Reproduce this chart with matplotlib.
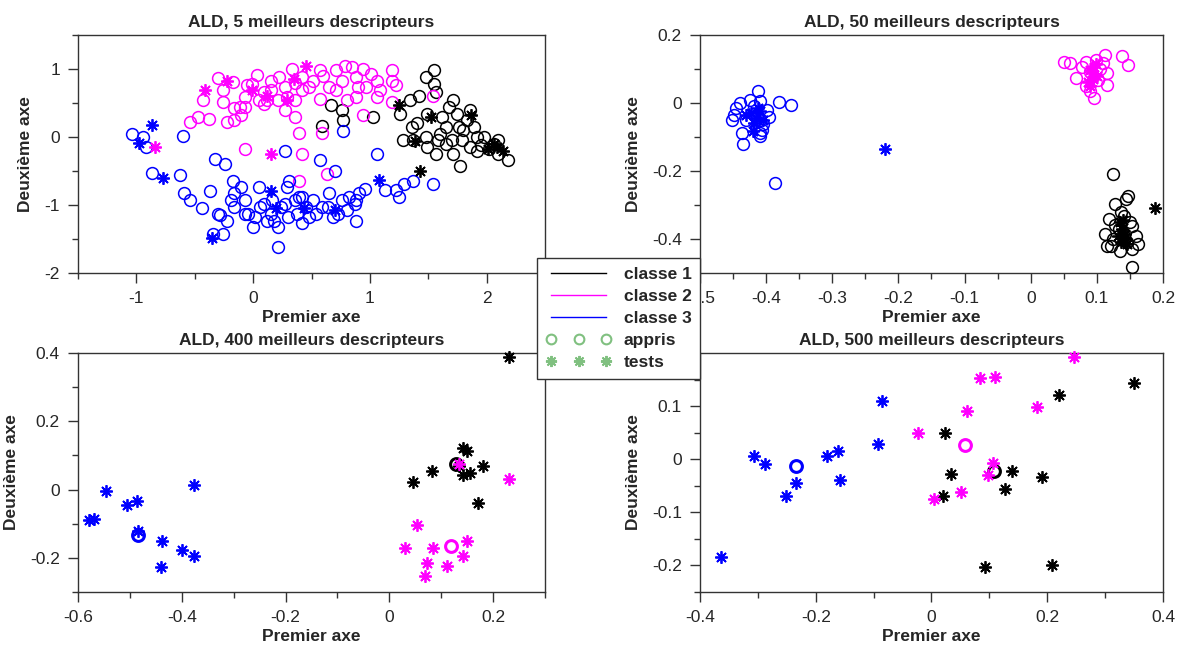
import numpy as np
import matplotlib
matplotlib.use('Agg')
import matplotlib.pyplot as plt
from matplotlib.lines import Line2D
from matplotlib.ticker import MultipleLocator

# ---- data : (premier axe, deuxieme axe) ----

# ALD, 5 meilleurs descripteurs
tl_c1_appris = [(0.67, 0.47), (0.76, 0.39), (0.77, 0.25), (0.59, 0.16), (1.03, 0.29),
	(1.26, 0.34), (1.34, 0.54), (1.42, 0.61), (1.48, 0.88), (1.55, 0.98), (1.55, 0.78),
	(1.57, 0.66), (1.49, 0.34), (1.36, 0.15), (1.28, -0.05), (1.37, -0.05), (1.48, 0.0),
	(1.49, -0.15), (1.57, -0.25), (1.65, 0.15), (1.68, 0.44), (1.71, 0.54), (1.75, 0.34),
	(1.76, 0.15), (1.79, -0.05), (1.77, -0.42), (1.71, -0.25), (1.65, -0.10), (1.86, 0.39),
	(1.89, 0.15), (1.92, 0.0), (1.92, -0.20), (1.98, 0.0), (2.06, -0.10), (2.10, -0.25),
	(2.18, -0.34), (2.10, -0.05), (1.58, -0.05), (1.86, -0.15), (1.60, 0.05), (1.83, 0.25),
	(1.70, -0.05), (1.95, -0.12), (2.02, -0.18), (1.80, 0.10), (1.62, 0.30), (1.40, 0.20)]
tl_c1_tests = [(1.25, 0.47), (1.52, 0.29), (1.87, 0.32), (1.39, -0.06), (1.43, -0.50),
	(2.06, -0.10), (2.09, -0.15), (2.01, -0.17), (2.14, -0.20)]
tl_c2_appris = [(-0.54, 0.22), (-0.47, 0.29), (-0.38, 0.27), (-0.43, 0.54), (-0.26, 0.51),
	(-0.26, 0.69), (-0.22, 0.22), (-0.16, 0.25), (-0.10, 0.32), (-0.16, 0.42), (-0.11, 0.44),
	(-0.07, 0.59), (-0.01, 0.78), (0.03, 0.91), (0.05, 0.54), (0.09, 0.49), (0.15, 0.69),
	(0.22, 0.88), (0.27, 0.74), (0.29, 0.59), (0.36, 0.54), (0.27, 0.39), (0.36, 0.29),
	(0.33, 1.0), (0.42, 0.88), (0.48, 0.74), (0.51, 0.83), (0.57, 0.99), (0.57, 0.56),
	(0.65, 0.74), (0.71, 0.98), (0.76, 0.83), (0.79, 1.05), (0.85, 1.03), (0.80, 0.54),
	(0.88, 0.59), (0.94, 1.0), (0.90, 0.74), (0.97, 0.74), (1.01, 0.93), (1.06, 0.83),
	(1.09, 0.69), (1.06, 0.59), (1.19, 0.98), (1.19, 0.83), (1.22, 0.76), (1.19, 0.51),
	(0.94, 0.32), (1.54, 0.61), (0.39, 0.06), (0.59, 0.06), (-0.07, -0.17), (0.42, -0.25),
	(0.39, -0.64), (0.63, -0.55), (-0.30, 0.87), (-0.17, 0.81), (-0.05, 0.76), (0.15, 0.83),
	(0.21, 0.54), (0.42, 0.69), (0.71, 0.69), (0.88, 0.88), (-0.07, 0.44), (0.09, 0.66),
	(0.60, 0.90), (0.36, 0.80), (0.12, 0.55)]
tl_c2_tests = [(-0.41, 0.69), (-0.22, 0.82), (-0.01, 0.69), (0.12, 0.61), (0.29, 0.54),
	(0.35, 0.86), (0.45, 1.05), (-0.84, -0.15), (0.15, -0.25)]
tl_c3_appris = [(-1.04, 0.05), (-0.94, 0.0), (-0.92, -0.15), (-0.87, -0.53), (-0.60, 0.02),
	(-0.63, -0.56), (-0.59, -0.83), (-0.54, -0.93), (-0.44, -1.04), (-0.37, -0.79),
	(-0.33, -0.33), (-0.24, -0.39), (-0.28, -1.15), (-0.26, -1.42), (-0.34, -1.42),
	(-0.17, -0.64), (-0.10, -0.74), (-0.16, -0.83), (-0.07, -0.93), (-0.04, -1.13),
	(0.0, -1.32), (0.05, -0.74), (0.09, -0.98), (0.15, -1.13), (0.16, -0.93), (0.21, -1.32),
	(0.21, -1.62), (0.27, -0.20), (0.31, -0.64), (0.29, -0.74), (0.24, -1.03), (0.30, -1.18),
	(0.36, -0.93), (0.38, -1.13), (0.42, -1.27), (0.39, -0.88), (0.45, -1.03), (0.51, -0.93),
	(0.54, -1.13), (0.57, -0.34), (0.59, -1.03), (0.65, -0.83), (0.68, -1.18), (0.70, -0.50),
	(0.76, -0.93), (0.77, 0.09), (0.80, -1.08), (0.87, -0.98), (0.88, -1.23), (0.91, -0.83),
	(0.96, -0.76), (1.06, -0.25), (1.13, -0.78), (1.22, -0.78), (1.25, -0.88), (1.29, -0.69),
	(1.37, -0.64), (1.54, -0.69), (-0.30, -1.13), (-0.22, -1.23), (-0.16, -1.03),
	(0.06, -1.03), (0.12, -1.23), (0.27, -0.98), (0.48, -1.18), (0.64, -1.03), (0.82, -0.88),
	(-0.07, -1.13), (0.02, -1.18), (-0.19, -0.93), (0.42, -0.88), (0.18, -1.23), (0.73, -1.13),
	(0.88, -0.93)]
tl_c3_tests = [(-0.87, 0.17), (-0.98, -0.09), (-0.77, -0.60), (-0.35, -1.49), (0.15, -0.80),
	(0.20, -1.04), (0.44, -1.04), (0.70, -1.08), (1.08, -0.63)]

# ALD, 50 meilleurs descripteurs
tr_c1_appris = [(0.124, -0.21), (0.147, -0.273), (0.127, -0.298), (0.112, -0.385),
	(0.115, -0.42), (0.124, -0.40), (0.141, -0.332), (0.153, -0.361), (0.159, -0.39),
	(0.162, -0.415), (0.135, -0.434), (0.153, -0.429), (0.153, -0.483), (0.118, -0.34),
	(0.141, -0.39), (0.133, -0.37), (0.144, -0.283), (0.128, -0.36), (0.146, -0.41),
	(0.137, -0.32), (0.121, -0.42), (0.150, -0.35)]
tr_c1_tests = [(0.138, -0.371), (0.141, -0.40), (0.135, -0.351), (0.143, -0.385),
	(0.132, -0.39), (0.146, -0.415), (0.139, -0.345), (0.136, -0.41), (0.188, -0.31)]
tr_c2_appris = [(0.051, 0.122), (0.069, 0.073), (0.077, 0.107), (0.083, 0.049),
	(0.095, 0.015), (0.101, 0.068), (0.112, 0.141), (0.115, 0.088), (0.115, 0.054),
	(0.138, 0.137), (0.147, 0.112), (0.083, 0.122), (0.060, 0.117), (0.098, 0.127),
	(0.110, 0.117), (0.089, 0.034), (0.105, 0.100), (0.090, 0.090)]
tr_c2_tests = [(0.092, 0.088), (0.086, 0.063), (0.095, 0.107), (0.089, 0.098),
	(0.100, 0.080), (0.094, 0.072), (0.098, 0.115), (0.090, 0.050)]
tr_c3_appris = [(-0.449, -0.034), (-0.44, 0.0), (-0.412, 0.034), (-0.41, 0.005),
	(-0.380, 0.002), (-0.362, -0.005), (-0.437, -0.088), (-0.435, -0.122), (-0.410, -0.088),
	(-0.404, -0.063), (-0.398, -0.02), (-0.419, -0.01), (-0.431, -0.049), (-0.41, -0.049),
	(-0.387, -0.234), (-0.425, 0.01), (-0.445, -0.015), (-0.407, -0.078), (-0.41, -0.098),
	(-0.452, -0.05), (-0.395, -0.04)]
tr_c3_tests = [(-0.423, -0.03), (-0.415, -0.044), (-0.410, -0.024), (-0.419, -0.06),
	(-0.42, -0.083), (-0.43, -0.034), (-0.412, -0.015), (-0.405, -0.05), (-0.220, -0.134)]

# ALD, 400 meilleurs descripteurs
bl_c1_appris = [(0.128, 0.076)]
bl_c1_tests = [(0.231, 0.389), (0.142, 0.123), (0.149, 0.113), (0.082, 0.054), (0.046, 0.023),
	(0.135, 0.069), (0.142, 0.044), (0.156, 0.049), (0.180, 0.069), (0.170, -0.039)]
bl_c2_appris = [(0.118, -0.165)]
bl_c2_tests = [(0.231, 0.031), (0.135, 0.076), (0.054, -0.105), (0.031, -0.172), (0.084, -0.172),
	(0.072, -0.216), (0.069, -0.253), (0.111, -0.224), (0.149, -0.152), (0.142, -0.194)]
bl_c3_appris = [(-0.485, -0.132)]
bl_c3_tests = [(-0.546, -0.005), (-0.579, -0.088), (-0.570, -0.085), (-0.505, -0.044),
	(-0.487, -0.034), (-0.377, 0.013), (-0.438, -0.152), (-0.400, -0.178), (-0.376, -0.194),
	(-0.441, -0.227), (-0.484, -0.12)]

# ALD, 500 meilleurs descripteurs
br_c1_appris = [(0.108, -0.023)]
br_c1_tests = [(0.350, 0.143), (0.220, 0.121), (0.023, 0.049), (0.034, -0.027), (0.020, -0.069),
	(0.139, -0.023), (0.127, -0.057), (0.191, -0.034), (0.092, -0.203), (0.209, -0.199)]
br_c2_appris = [(0.058, 0.026)]
br_c2_tests = [(0.246, 0.193), (0.084, 0.152), (0.110, 0.155), (0.061, 0.091), (0.182, 0.098),
	(-0.024, 0.049), (0.051, -0.061), (0.005, -0.074), (0.106, -0.008), (0.098, -0.030)]
br_c3_appris = [(-0.234, -0.012)]
br_c3_tests = [(-0.364, -0.184), (-0.307, 0.007), (-0.288, -0.009), (-0.251, -0.069),
	(-0.234, -0.044), (-0.180, 0.007), (-0.161, 0.015), (-0.158, -0.039), (-0.092, 0.029),
	(-0.086, 0.109)]

titles = ["ALD, 5 meilleurs descripteurs", "ALD, 50 meilleurs descripteurs",
	"ALD, 400 meilleurs descripteurs", "ALD, 500 meilleurs descripteurs"]
class_names = ["classe 1", "classe 2", "classe 3"]
class_colors = ["#000000", "#ff00ff", "#0000ff"]

W, H = 1194, 645
STAR = (8, 2, 0)
TXT = "#262626"
FS = 12.5

plt.rcParams['font.family'] = ['Liberation Sans', 'DejaVu Sans']

fig = plt.figure(figsize=(W / 100, H / 100), dpi=100)

# axes boxes in pixels : left, top, right, bottom
boxes = [(78, 35, 545, 273), (700, 35, 1163, 273),
	(78, 353, 545, 592), (700, 353, 1163, 592)]

# limits, major and minor steps
lims = [((-1.5, 2.5), (-2, 1.5), 1, 0.5, 1, 0.5),
	((-0.5, 0.2), (-0.5, 0.2), 0.1, 0.05, 0.2, 0.1),
	((-0.6, 0.3), (-0.3, 0.4), 0.2, 0.1, 0.2, 0.1),
	((-0.4, 0.4), (-0.25, 0.2), 0.2, 0.1, 0.1, 0.05)]

data = [
	[(tl_c1_appris, tl_c1_tests), (tl_c2_appris, tl_c2_tests), (tl_c3_appris, tl_c3_tests)],
	[(tr_c1_appris, tr_c1_tests), (tr_c2_appris, tr_c2_tests), (tr_c3_appris, tr_c3_tests)],
	[(bl_c1_appris, bl_c1_tests), (bl_c2_appris, bl_c2_tests), (bl_c3_appris, bl_c3_tests)],
	[(br_c1_appris, br_c1_tests), (br_c2_appris, br_c2_tests), (br_c3_appris, br_c3_tests)],
]

def fmt_tick(v, pos):
	s = ("%.2f" % v).rstrip('0').rstrip('.')
	if s == "-0":
		s = "0"
	return s

for k in range(4):
	l, t, r, b = boxes[k]
	ax = fig.add_axes([l / W, 1 - b / H, (r - l) / W, (b - t) / H])
	xl, yl, xmaj, xmin, ymaj, ymin = lims[k]

	# the single circles of the last two panels look thicker (overlapping marks)
	thick = k >= 2
	for ci in range(3):
		appris, tests = data[k][ci]
		a = np.array(appris)
		ax.plot(a[:, 0], a[:, 1], 'o', ms=8.5, mfc='none', mec=class_colors[ci],
				mew=2.2 if thick else 1.1, clip_on=False, zorder=3)
	for ci in range(3):
		appris, tests = data[k][ci]
		s = np.array(tests)
		ax.plot(s[:, 0], s[:, 1], ls='none', marker=STAR, ms=9, mec=class_colors[ci],
				mew=1.3, clip_on=False, zorder=4)

	ax.set_xlim(xl)
	ax.set_ylim(yl)
	ax.xaxis.set_major_locator(MultipleLocator(xmaj))
	ax.xaxis.set_minor_locator(MultipleLocator(xmin))
	ax.yaxis.set_major_locator(MultipleLocator(ymaj))
	ax.yaxis.set_minor_locator(MultipleLocator(ymin))
	ax.xaxis.set_major_formatter(fmt_tick)
	ax.yaxis.set_major_formatter(fmt_tick)
	ax.tick_params(which='both', direction='out', colors='#333333', labelcolor=TXT,
				   labelsize=FS, width=1, top=False, right=False)
	ax.tick_params(which='major', length=7, pad=6)
	ax.tick_params(which='minor', length=4)
	for sp in ax.spines.values():
		sp.set_color('#333333')
		sp.set_linewidth(1)

	ax.set_title(titles[k], fontsize=FS, fontweight='bold', color=TXT, pad=6)
	ax.set_xlabel("Premier axe", fontsize=FS, fontweight='bold', color=TXT, labelpad=3)
	ax.set_ylabel("Deuxième axe", fontsize=FS, fontweight='bold', color=TXT, labelpad=8)

# common legend between the panels
leg_col = "#80c080"
handles = [Line2D([], [], color=c, lw=1) for c in class_colors]
handles.append(Line2D([], [], ls='none', marker='o', ms=7, mfc='none', mec=leg_col, mew=1.5))
handles.append(Line2D([], [], ls='none', marker=STAR, ms=8, mec=leg_col, mew=1.4))
labels = class_names + ["appris", "tests"]

leg = fig.legend(handles, labels, loc='upper left',
				 bbox_to_anchor=(537 / W, 1 - 258 / H), numpoints=3,
				 handlelength=3.8, handletextpad=0.7, labelspacing=0.4,
				 borderpad=0.5, borderaxespad=0,
				 prop={'weight': 'bold', 'size': FS},
				 fancybox=False, framealpha=1, edgecolor='#333333')
leg.get_frame().set_linewidth(1)
for txt in leg.get_texts():
	txt.set_color(TXT)
leg.set_zorder(10)

fig.savefig("out.png", dpi=100)
